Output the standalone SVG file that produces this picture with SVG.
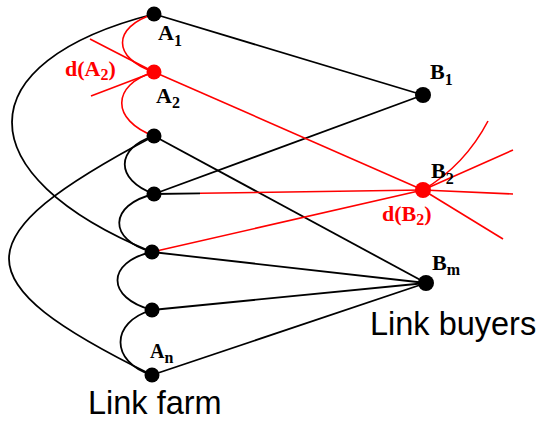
<svg xmlns="http://www.w3.org/2000/svg" width="543" height="421" viewBox="0 0 543 421">
<style>
.e{fill:none;stroke:#000;stroke-width:1.8}
.r{fill:none;stroke:#f00;stroke-width:1.6}
.n{fill:#000}
.nr{fill:#f00}
.lb{font-family:"Liberation Serif","Times New Roman",serif;font-weight:bold;font-size:22px;fill:#000}
.lr{font-family:"Liberation Serif","Times New Roman",serif;font-weight:bold;font-size:22px;fill:#f00}
.sub{font-size:16px}
.big{font-family:"Liberation Sans",Arial,sans-serif;font-size:32.5px;fill:#000}
</style>
<rect width="543" height="421" fill="#fff"/>
<g id="connectors">
<path class="e" d="M154,14 L423,95"/>
<path class="e" d="M154,136 L426,283"/>
<path class="e" d="M154,194 L423,95"/>
<path class="e" d="M154,194 L200,193.3"/>
<path class="e" d="M152,252 L426,283"/>
<path class="e" d="M152,310 L426,283"/>
<path class="e" d="M152,375 L426,283"/>
<path class="e" d="M154,136 C115,148 115,180 154,194"/>
<path class="e" d="M154,194 C108,205 108,240 152,252"/>
<path class="e" d="M152,252 C106,262 106,298 152,310"/>
<path class="e" d="M152,310 C110,322 110,362 152,375"/>
<path class="e" d="M154,14 C-35,62 -35,175 152,252"/>
<path class="e" d="M154,136 C-39,238 -39,281 152,375"/>
<path class="r" d="M154,72 L423,190"/>
<path class="r" d="M200,193.3 L423,190"/>
<path class="r" d="M152,252 L423,190"/>
<path class="r" d="M90,39 L154,72"/>
<path class="r" d="M91,96 L154,72"/>
<path class="r" d="M423,190 L513,150"/>
<path class="r" d="M423,190 L513,194"/>
<path class="r" d="M423,190 L503,239"/>
<path class="r" d="M423,190 Q465,165 488,121"/>
<path class="r" d="M154,14 C112,27 112,58 154,72"/>
<path class="r" d="M154,72 C111,85 111,120 154,136"/>
</g>
<g id="A1"><circle class="n" cx="154" cy="14" r="7.5"/><text class="lb" x="158" y="40">A<tspan class="sub" dy="6">1</tspan></text></g>
<g id="A2"><circle class="nr" cx="154" cy="72" r="7.5"/><text class="lb" x="156" y="103">A<tspan class="sub" dy="5">2</tspan></text></g>
<g id="dA2"><text class="lr" x="65" y="76">d(A<tspan class="sub" dy="4">2</tspan><tspan dy="-4">)</tspan></text></g>
<g id="A3"><circle class="n" cx="154" cy="136" r="7.5"/></g>
<g id="A4"><circle class="n" cx="154" cy="194" r="7.5"/></g>
<g id="A5"><circle class="n" cx="152" cy="252" r="7.5"/></g>
<g id="A6"><circle class="n" cx="152" cy="310" r="7.5"/></g>
<g id="An"><circle class="n" cx="152" cy="375" r="7.5"/><text class="lb" x="150" y="358" style="font-size:20px">A<tspan class="sub" dy="5">n</tspan></text></g>
<g id="B1"><circle class="n" cx="423" cy="95" r="8"/><text class="lb" x="430" y="79">B<tspan class="sub" dy="6">1</tspan></text></g>
<g id="B2"><circle class="nr" cx="423" cy="190" r="8"/><text class="lb" x="431" y="178">B<tspan class="sub" dy="6">2</tspan></text></g>
<g id="dB2"><text class="lr" x="382" y="221">d(B<tspan class="sub" dy="4">2</tspan><tspan dy="-4">)</tspan></text></g>
<g id="Bm"><circle class="n" cx="426" cy="283" r="8"/><text class="lb" x="432" y="270">B<tspan class="sub" dy="5">m</tspan></text></g>
<text class="big" x="370" y="335">Link buyers</text>
<text class="big" x="88" y="414">Link farm</text>
</svg>
